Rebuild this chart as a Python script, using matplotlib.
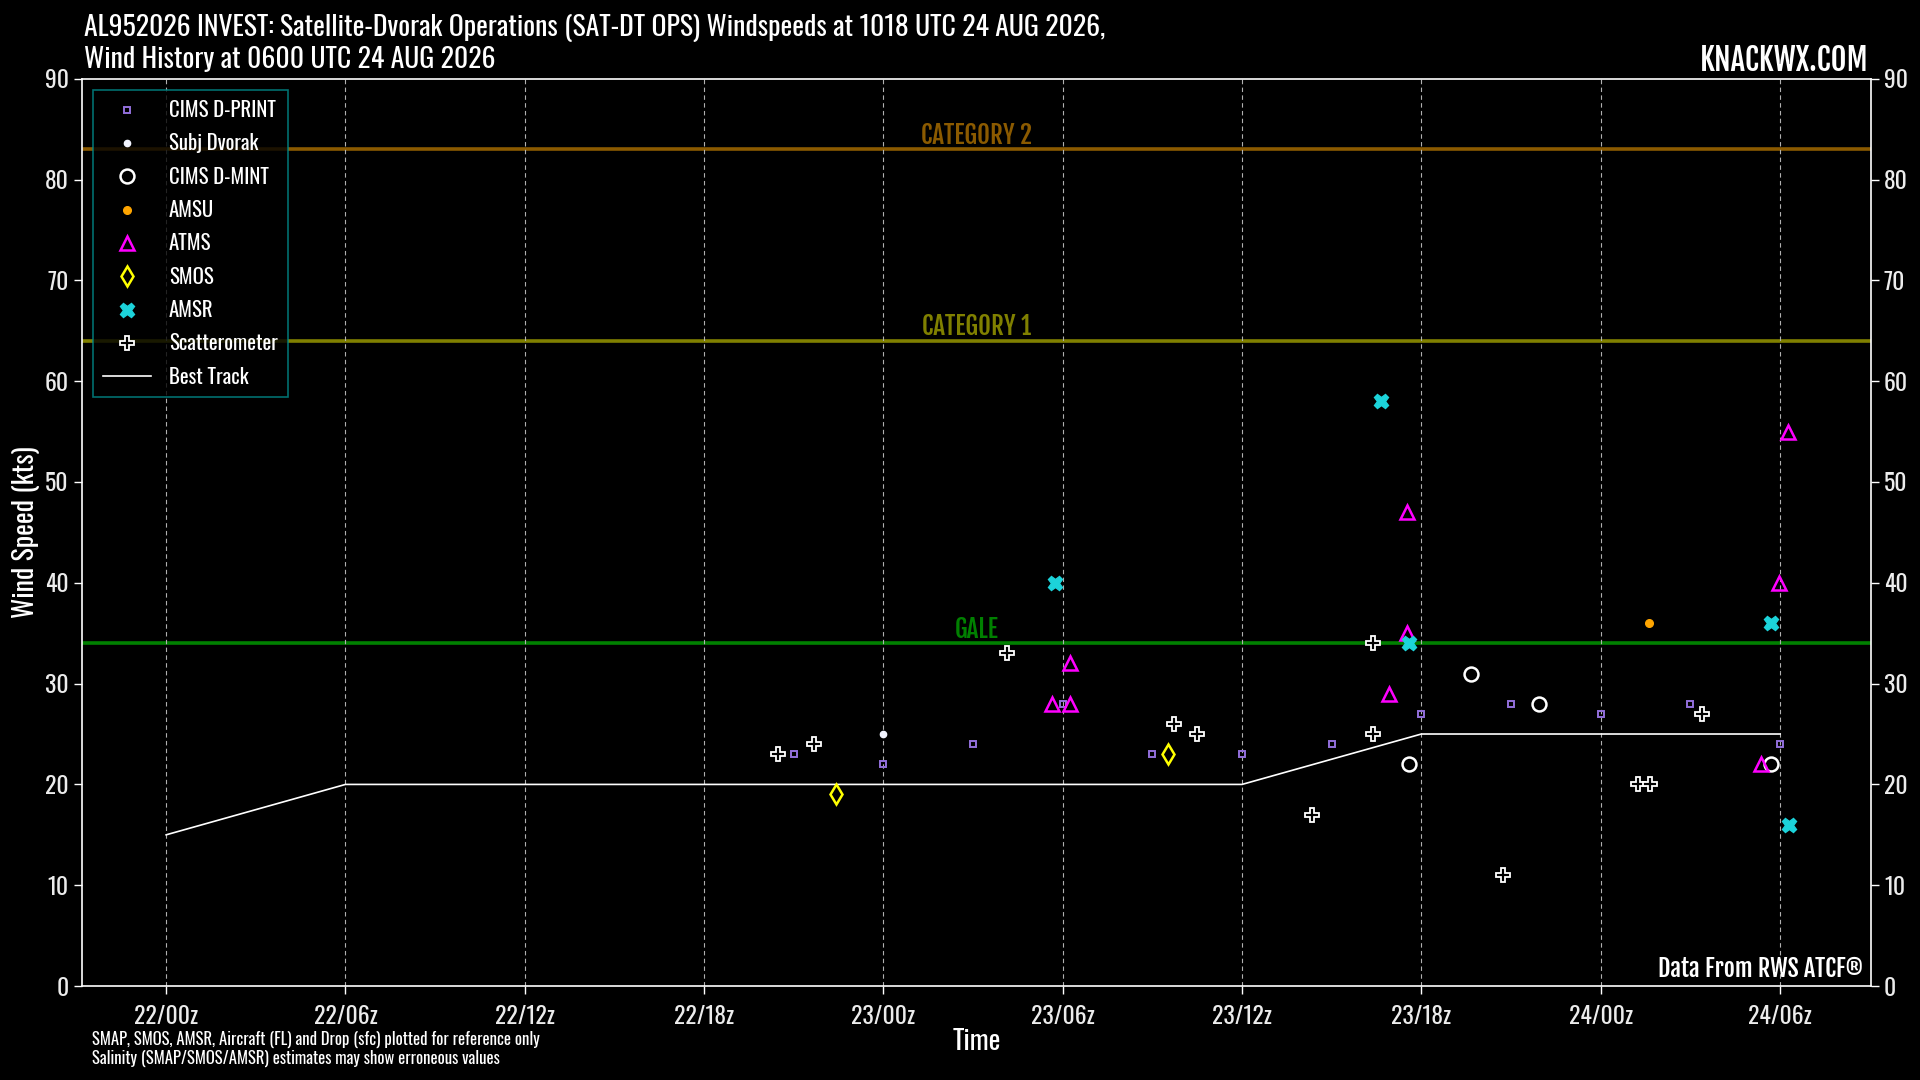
import matplotlib
matplotlib.use("Agg")
import matplotlib.pyplot as plt
from datetime import datetime

# ---------------- data ----------------
def T(s):
    return datetime.strptime("2026-08-" + s, "%Y-%m-%d %H:%M")

dprint_t = ["22 21:00", "23 00:00", "23 03:00", "23 06:00", "23 09:00", "23 12:00",
            "23 15:00", "23 18:00", "23 21:00", "24 00:00", "24 03:00", "24 06:00"]
dprint_v = [23, 22, 24, 28, 23, 23, 24, 27, 28, 27, 28, 24]

subj_t = ["23 00:00"]
subj_v = [25]

dmint_t = ["23 17:36", "23 19:40", "23 21:56", "24 05:42"]
dmint_v = [22, 31, 28, 22]

amsu_t = ["24 01:36"]
amsu_v = [36]

atms_t = ["23 05:39", "23 06:15", "23 06:15", "23 16:56", "23 17:31", "23 17:31",
          "24 05:22", "24 05:58", "24 06:16"]
atms_v = [28, 28, 32, 29, 47, 35, 22, 40, 55]

smos_t = ["22 22:24", "23 09:31"]
smos_v = [19, 23]

amsr_t = ["23 05:45", "23 16:38", "23 17:35", "24 05:42", "24 06:18"]
amsr_v = [40, 58, 34, 36, 16]

scat_t = ["22 20:28", "22 21:40", "23 04:08", "23 09:44", "23 10:29", "23 14:21",
          "23 16:22", "23 16:22", "23 20:44", "24 01:14", "24 01:38", "24 03:24"]
scat_v = [23, 24, 33, 26, 25, 17, 34, 25, 11, 20, 20, 27]

best_t = ["22 00:00", "22 06:00", "22 12:00", "22 18:00", "23 00:00",
          "23 06:00", "23 12:00", "23 18:00", "24 00:00", "24 06:00"]
best_v = [15, 20, 20, 20, 20, 20, 20, 25, 25, 25]

thresh_names = ["GALE", "CATEGORY 1", "CATEGORY 2"]
thresh_vals = [34, 64, 83]
thresh_cols = ["#008000", "#808000", "#8B5A00"]

tick_times = ["22 00:00", "22 06:00", "22 12:00", "22 18:00", "23 00:00",
              "23 06:00", "23 12:00", "23 18:00", "24 00:00", "24 06:00"]
tick_labels = ["22/00z", "22/06z", "22/12z", "22/18z", "23/00z",
               "23/06z", "23/12z", "23/18z", "24/00z", "24/06z"]
yticks = list(range(0, 91, 10))

# ---------------- styling ----------------
FONT = "Oswald"
BOLD = "Fjalla One"
plt.rcParams["font.family"] = [FONT, "DejaVu Sans"]

fig = plt.figure(figsize=(19.2, 10.8), dpi=100, facecolor="black")
ax = fig.add_axes([0.0427, 0.0870, 0.9743 - 0.0427, 0.9271 - 0.0870])
ax.set_facecolor("black")

tt = lambda L: [T(s) for s in L]

# threshold lines
for name, v, c in zip(thresh_names, thresh_vals, thresh_cols):
    ax.axhline(v, color=c, lw=2.6, zorder=1)
    ax.annotate(name, xy=(0.5, v), xycoords=("axes fraction", "data"),
                xytext=(0, 0.5), textcoords="offset points", ha="center", va="bottom",
                color=c, fontsize=18, family=[BOLD, "DejaVu Sans"], zorder=2)

# best track
best_line, = ax.plot(tt(best_t), best_v, color="white", lw=1.2, zorder=3, label="Best Track")

h_dprint, = ax.plot(tt(dprint_t), dprint_v, ls="none", marker="s", ms=5, mfc="none",
                    mec="#9370DB", mew=1.4, zorder=5, label="CIMS D-PRINT")
h_subj, = ax.plot(tt(subj_t), subj_v, ls="none", marker="o", ms=4.5, color="#f2f4ff",
                  zorder=5, label="Subj Dvorak")
h_dmint, = ax.plot(tt(dmint_t), dmint_v, ls="none", marker="o", ms=10, mfc="none",
                   mec="white", mew=1.8, zorder=5, label="CIMS D-MINT")
h_amsu, = ax.plot(tt(amsu_t), amsu_v, ls="none", marker="o", ms=5.5, color="#FFA500",
                  zorder=5, label="AMSU")
h_atms, = ax.plot(tt(atms_t), atms_v, ls="none", marker="^", ms=10, mfc="none",
                  mec="#FF00FF", mew=1.8, zorder=5, label="ATMS")
h_smos, = ax.plot(tt(smos_t), smos_v, ls="none", marker="d", ms=10, mfc="none",
                  mec="#FFFF00", mew=1.8, zorder=5, label="SMOS")
h_amsr, = ax.plot(tt(amsr_t), amsr_v, ls="none", marker="X", ms=10.5, color="#1CD3DA",
                  mec="#1CD3DA", zorder=5, label="AMSR")
h_scat, = ax.plot(tt(scat_t), scat_v, ls="none", marker="P", ms=10.5, mfc="black",
                  mec="white", mew=1.3, zorder=5, label="Scatterometer")

handles = [h_dprint, h_subj, h_dmint, h_amsu, h_atms, h_smos, h_amsr, h_scat, best_line]

leg = ax.legend(handles=handles, loc="upper left", bbox_to_anchor=(0.006, 0.988),
                frameon=True, fancybox=False, facecolor="black", edgecolor="#008B8B",
                fontsize=15, labelcolor="white", labelspacing=0.64, handlelength=2.3,
                handletextpad=0.85, borderpad=0.5, borderaxespad=0.0, numpoints=1)
leg.get_frame().set_linewidth(1.2)
leg.set_zorder(10)

# axes limits / ticks
ax.set_xlim(T("21 21:11"), T("24 09:02"))
ax.set_ylim(0, 90)
ax.set_xticks(tt(tick_times))
ax.set_xticklabels(tick_labels)
ax.set_yticks(yticks)
ax.grid(axis="x", color="#b0b0b0", ls=(0, (4, 3)), lw=0.8, zorder=0)
for s in ax.spines.values():
    s.set_color("white")
    s.set_linewidth(1.2)
ax.tick_params(axis="both", colors="white", labelcolor="#ececec", labelsize=17,
               length=6, width=1.0)
ax.tick_params(axis="x", pad=8)

ax2 = ax.twinx()
ax2.set_ylim(0, 90)
ax2.set_yticks(yticks)
ax2.tick_params(axis="y", colors="white", labelcolor="#ececec", labelsize=17,
                length=6, width=1.0)
for s in ax2.spines.values():
    s.set_visible(False)

ax.set_ylabel("Wind Speed (kts)", color="white", fontsize=20, labelpad=3)
ax.set_xlabel("Time", color="white", fontsize=20, labelpad=0)

# texts
fig.text(0.044, 0.9667,
         "AL952026 INVEST: Satellite-Dvorak Operations (SAT-DT OPS) Windspeeds at 1018 UTC 24 AUG 2026,",
         color="white", fontsize=20, ha="left", va="baseline")
fig.text(0.044, 0.9368, "Wind History at 0600 UTC 24 AUG 2026",
         color="white", fontsize=20, ha="left", va="baseline")
fig.text(0.973, 0.9343, "KNACKWX.COM", color="white", fontsize=22,
         family=[BOLD, "DejaVu Sans"], ha="right", va="baseline")
fig.text(0.970, 0.0957, "Data From RWS ATCF\u00ae", color="white", fontsize=17.4,
         family=[BOLD, "DejaVu Sans"], ha="right", va="baseline")
fig.text(0.0477, 0.0324,
         "SMAP, SMOS, AMSR, Aircraft (FL) and Drop (sfc) plotted for reference only",
         color="white", fontsize=12, ha="left", va="baseline")
fig.text(0.0477, 0.0148, "Salinity (SMAP/SMOS/AMSR) estimates may show erroneous values",
         color="white", fontsize=12, ha="left", va="baseline")

fig.savefig("out.png", dpi=100, facecolor="black")
